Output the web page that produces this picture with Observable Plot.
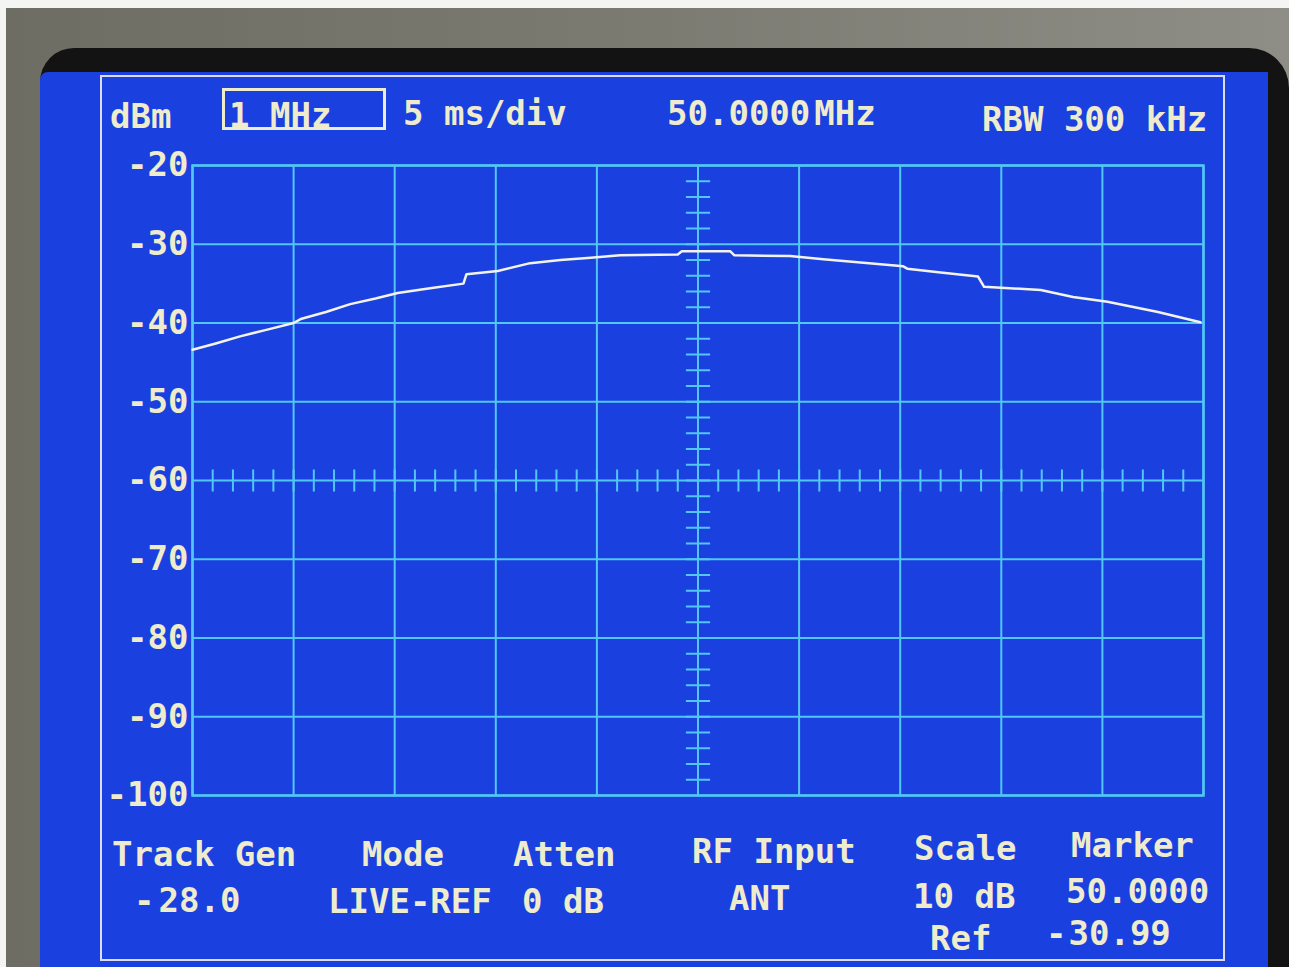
<!DOCTYPE html>
<html>
<head>
<meta charset="utf-8">
<script src="https://cdn.jsdelivr.net/npm/d3@7"></script>
<script src="https://cdn.jsdelivr.net/npm/@observablehq/plot@0.6"></script>
<style>
  html, body { margin: 0; padding: 0; background: #f4f4f2; width: 1289px; height: 967px; overflow: hidden; }
  #wall { position: absolute; left: 6px; top: 8px; width: 1283px; height: 959px;
          background: linear-gradient(90deg, #6e6d64 0%, #7c7b72 50%, #8f8e86 100%); }
  #bezel { position: absolute; left: 40px; top: 48px; width: 1249px; height: 919px; background: #131313;
           border-top-left-radius: 34px; border-top-right-radius: 40px; }
  #screen { position: absolute; left: 40px; top: 72px; width: 1228px; height: 895px;
            background: #1a40e0; border-top-left-radius: 8px; }
  #outline { position: absolute; left: 100px; top: 75px; width: 1125px; height: 886px;
             border: 2px solid #dcdcee; box-sizing: border-box; }
  #chart { position: absolute; left: 0; top: 0; }
  .t { position: absolute; color: #efecce; font-family: "DejaVu Sans Mono", monospace; font-size: 34px;
       font-weight: bold; line-height: 34px; white-space: pre; }
  #box { position: absolute; left: 222px; top: 88px; width: 164px; height: 42px;
         border: 3px solid #efecce; box-sizing: border-box; }
</style>
</head>
<body>
<div id="wall"></div>
<div id="bezel"></div>
<div id="screen"></div>
<div id="outline"></div>
<div id="chart"></div>

<div id="box"></div>
<div class="t" style="left:110px; top:99px;">dBm</div>
<div class="t" style="left:229px; top:98px;">1 MHz</div>
<div class="t" style="left:403px; top:96px;">5 ms/div</div>
<div class="t" style="left:667px; top:96px;">50.0000<span style="margin-left:4px">MHz</span></div>
<div class="t" style="left:982px; top:102px;">RBW 300 kHz</div>

<div class="t" style="left:112px; top:837px;">Track Gen</div>
<div class="t" style="left:362px; top:837px;">Mode</div>
<div class="t" style="left:513px; top:837px;">Atten</div>
<div class="t" style="left:692px; top:834px;">RF Input</div>
<div class="t" style="left:914px; top:831px;">Scale</div>
<div class="t" style="left:1071px; top:828px;">Marker</div>

<div class="t" style="left:134px; top:883px;">-<span style="margin-left:4px">28.0</span></div>
<div class="t" style="left:328px; top:884px;">LIVE-REF</div>
<div class="t" style="left:522px; top:884px;">0 dB</div>
<div class="t" style="left:729px; top:881px;">ANT</div>
<div class="t" style="left:913px; top:879px;">10 dB</div>
<div class="t" style="left:1066px; top:874px;">50.0000</div>
<div class="t" style="left:930px; top:921px;">Ref</div>
<div class="t" style="left:1046px; top:916px;">-<span style="margin-left:2px">30.99</span></div>

<script>
const freqMHz  = [45.00, 45.23, 45.47, 45.72, 46.00, 46.07, 46.32, 46.56, 46.81, 47.03, 47.35, 47.68, 47.71,
                  48.02, 48.34, 48.64, 48.94, 49.23, 49.80, 49.84, 50.32, 50.36, 50.91, 51.24, 51.58, 52.03,
                  52.07, 52.40, 52.77, 52.83, 53.39, 53.71, 54.05, 54.55, 54.97];
const levelDbm = [-43.4, -42.6, -41.7, -40.9, -40.0, -39.5, -38.6, -37.6, -36.9, -36.2, -35.6, -35.0, -33.8,
                  -33.4, -32.4, -32.0, -31.7, -31.4, -31.3, -30.9, -30.9, -31.4, -31.5, -31.9, -32.3, -32.8,
                  -33.1, -33.6, -34.1, -35.4, -35.8, -36.7, -37.3, -38.6, -39.9];
const xGridMHz = [45, 46, 47, 48, 49, 50, 51, 52, 53, 54, 55];
const yTicksDbm = [-20, -30, -40, -50, -60, -70, -80, -90, -100];
const centerMHz = 50;
const centerLineDbm = -60;
const minorDbm = d3.range(-98, -20, 2);          // 2 dB minor ticks on centre vertical
const minorMHz = d3.range(45.2, 54.9, 0.2);      // 0.2 MHz minor ticks on centre horizontal

const trace = freqMHz.map((f, i) => ({f, v: levelDbm[i]}));

const gridColor = "#52c6f4";
const textColor = "#efecce";

const chart = Plot.plot({
  width: 1289,
  height: 967,
  marginLeft: 192,
  marginRight: 86,
  marginTop: 165,
  marginBottom: 172,
  style: {background: "transparent", overflow: "visible"},
  x: {domain: [45, 55], axis: null},
  y: {domain: [-100, -20]},
  marks: [
    Plot.gridX(xGridMHz, {stroke: gridColor, strokeOpacity: 1, strokeWidth: 2}),
    Plot.gridY(yTicksDbm, {stroke: gridColor, strokeOpacity: 1, strokeWidth: 2}),
    Plot.frame({stroke: gridColor, strokeWidth: 2.5}),
    Plot.link(minorDbm, {x1: () => centerMHz - 0.12, x2: () => centerMHz + 0.12, y1: d => d, y2: d => d,
                         stroke: gridColor, strokeWidth: 2}),
    Plot.link(minorMHz, {x1: d => d, x2: d => d, y1: () => centerLineDbm - 1.4, y2: () => centerLineDbm + 1.4,
                         stroke: gridColor, strokeWidth: 2}),
    Plot.line(trace, {x: "f", y: "v", stroke: "#f3f3ee", strokeWidth: 2.5, curve: "linear"}),
    Plot.axisY(yTicksDbm, {tickSize: 0, tickPadding: 4, fontSize: 34, fontWeight: "bold", fill: textColor,
                           fontFamily: "DejaVu Sans Mono, monospace", tickFormat: d => String(d), label: null})
  ]
});
document.getElementById("chart").appendChild(chart);
</script>
</body>
</html>
